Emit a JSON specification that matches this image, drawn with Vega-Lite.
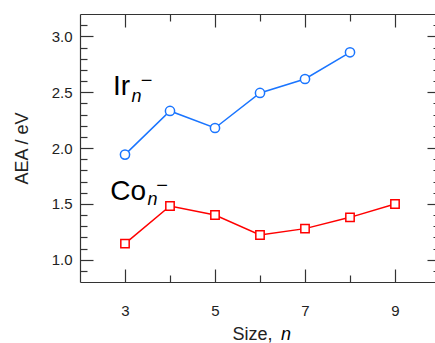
{
  "$schema": "https://vega.github.io/schema/vega-lite/v6.json",
  "width": 360,
  "height": 268,
  "autosize": "none",
  "padding": {"left": 80, "top": 14, "right": 0, "bottom": 61},
  "config": {
    "view": {"stroke": null},
    "font": "Liberation Sans",
    "axis": {"grid": false, "domainColor": "#333", "tickColor": "#333", "domainWidth": 1.2, "tickWidth": 1.2, "labelColor": "#222", "labelFont": "Liberation Sans", "labelFontSize": 15, "labelOverlap": false, "labelFlush": false, "titleFont": "Liberation Sans", "titleFontWeight": "normal", "titleColor": "#222"}
  },
  "datasets": {
    "ir": [
      {"n": 3, "aea": 1.941}, {"n": 4, "aea": 2.332}, {"n": 5, "aea": 2.179},
      {"n": 6, "aea": 2.493}, {"n": 7, "aea": 2.618}, {"n": 8, "aea": 2.857}
    ],
    "co": [
      {"n": 3, "aea": 1.144}, {"n": 4, "aea": 1.481}, {"n": 5, "aea": 1.40},
      {"n": 6, "aea": 1.221}, {"n": 7, "aea": 1.278}, {"n": 8, "aea": 1.379}, {"n": 9, "aea": 1.499}
    ],
    "big": [{"x": 2.733, "y": 2.472, "t": "Ir"}, {"x": 2.673, "y": 1.538, "t": "Co"}],
    "ital": [{"x": 3.144, "y": 2.412, "t": "n"}, {"x": 3.5, "y": 1.487, "t": "n"}, {"x": 6.467, "y": 0.283, "t": "n"}],
    "sups": [{"x": 3.349, "y": 2.543, "t": "−"}, {"x": 3.696, "y": 1.609, "t": "−"}],
    "xt": [{"x": 5.389, "y": 0.283, "t": "Size,"}]
  },
  "layer": [
    {
      "data": {"name": "ir"},
      "mark": {"type": "line", "color": "#1a75ff", "strokeWidth": 1.5, "point": {"shape": "circle", "filled": true, "fill": "white", "stroke": "#1a75ff", "strokeWidth": 1.5, "size": 85, "opacity": 1}},
      "encoding": {
        "x": {"field": "n", "type": "quantitative", "scale": {"domain": [2, 10], "nice": false, "zero": false},
          "axis": {"orient": "bottom", "values": [3, 4, 5, 6, 7, 8, 9], "tickSize": {"condition": {"test": "datum.value % 2 == 0", "value": -7}, "value": -13}, "labelExpr": "datum.value % 2 == 1 ? datum.label : ''", "labelPadding": 34, "title": null}},
        "y": {"field": "aea", "type": "quantitative", "scale": {"domain": [0.8, 3.2], "nice": false, "zero": false},
          "axis": {"orient": "left", "values": [0.9, 1.0, 1.1, 1.2, 1.3, 1.4, 1.5, 1.6, 1.7, 1.8, 1.9, 2.0, 2.1, 2.2, 2.3, 2.4, 2.5, 2.6, 2.7, 2.8, 2.9, 3.0, 3.1], "format": ".1f",
            "tickSize": {"condition": {"test": "abs(datum.value*2 - round(datum.value*2)) > 0.01", "value": -7}, "value": -13},
            "labelExpr": "abs(datum.value*2 - round(datum.value*2)) < 0.01 ? datum.label : ''", "labelPadding": 21,
            "title": "AEA / eV", "titleFontSize": 18, "titlePadding": 20}}
      }
    },
    {
      "data": {"name": "co"},
      "mark": {"type": "line", "color": "#ff0000", "strokeWidth": 1.5, "point": {"shape": "square", "filled": true, "fill": "white", "stroke": "#ff0000", "strokeWidth": 1.5, "size": 70, "opacity": 1}},
      "encoding": {
        "x": {"field": "n", "type": "quantitative", "axis": null},
        "y": {"field": "aea", "type": "quantitative", "axis": null}
      }
    },
    {
      "data": {"name": "ir"},
      "mark": {"type": "point", "opacity": 0},
      "encoding": {
        "x": {"field": "n", "type": "quantitative",
          "axis": {"orient": "top", "values": [3, 4, 5, 6, 7, 8, 9], "tickSize": {"condition": {"test": "datum.value % 2 == 0", "value": -7}, "value": -13}, "labels": false, "title": null}},
        "y": {"field": "aea", "type": "quantitative",
          "axis": {"orient": "right", "values": [0.9, 1.0, 1.1, 1.2, 1.3, 1.4, 1.5, 1.6, 1.7, 1.8, 1.9, 2.0, 2.1, 2.2, 2.3, 2.4, 2.5, 2.6, 2.7, 2.8, 2.9, 3.0, 3.1],
            "tickSize": {"condition": {"test": "abs(datum.value*2 - round(datum.value*2)) > 0.01", "value": -7}, "value": -13}, "labels": false, "title": null}}
      }
    },
    {
      "data": {"name": "big"},
      "mark": {"type": "text", "font": "Liberation Sans", "fontSize": 28, "align": "left", "baseline": "alphabetic", "color": "#000"},
      "encoding": {
        "x": {"field": "x", "type": "quantitative", "axis": null},
        "y": {"field": "y", "type": "quantitative", "axis": null},
        "text": {"field": "t"}
      }
    },
    {
      "data": {"name": "ital"},
      "mark": {"type": "text", "font": "Liberation Sans", "fontSize": 18, "fontStyle": "italic", "align": "left", "baseline": "alphabetic", "color": "#000"},
      "encoding": {
        "x": {"field": "x", "type": "quantitative", "axis": null},
        "y": {"field": "y", "type": "quantitative", "axis": null},
        "text": {"field": "t"}
      }
    },
    {
      "data": {"name": "sups"},
      "mark": {"type": "text", "font": "Liberation Sans", "fontSize": 20, "align": "left", "baseline": "alphabetic", "color": "#000"},
      "encoding": {
        "x": {"field": "x", "type": "quantitative", "axis": null},
        "y": {"field": "y", "type": "quantitative", "axis": null},
        "text": {"field": "t"}
      }
    },
    {
      "data": {"name": "xt"},
      "mark": {"type": "text", "font": "Liberation Sans", "fontSize": 18, "align": "left", "baseline": "alphabetic", "color": "#222"},
      "encoding": {
        "x": {"field": "x", "type": "quantitative", "axis": null},
        "y": {"field": "y", "type": "quantitative", "axis": null},
        "text": {"field": "t"}
      }
    }
  ],
  "resolve": {"axis": {"x": "independent", "y": "independent"}}
}
